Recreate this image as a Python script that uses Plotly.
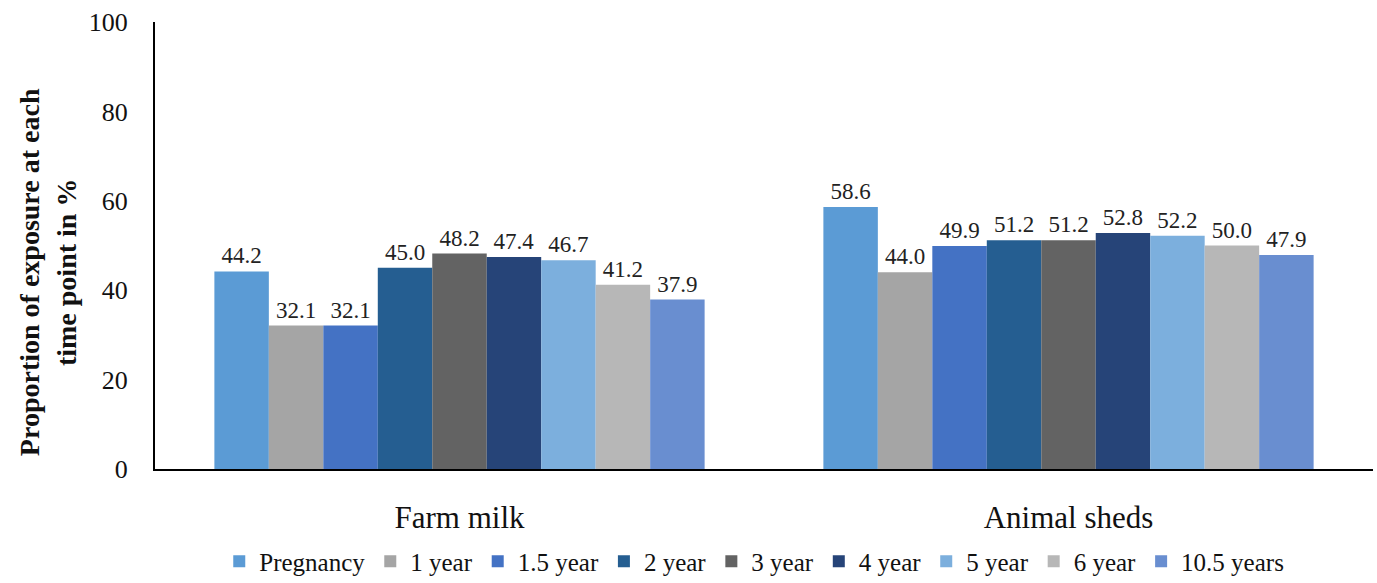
import plotly.graph_objects as go

categories = ["Farm milk", "Animal sheds"]
series_names = ["Pregnancy", "1 year", "1.5 year", "2 year", "3 year", "4 year", "5 year", "6 year", "10.5 years"]
pregnancy = [44.2, 58.6]
year_1 = [32.1, 44.0]
year_1_5 = [32.1, 49.9]
year_2 = [45.0, 51.2]
year_3 = [48.2, 51.2]
year_4 = [47.4, 52.8]
year_5 = [46.7, 52.2]
year_6 = [41.2, 50.0]
year_10_5 = [37.9, 47.9]
series_values = [pregnancy, year_1, year_1_5, year_2, year_3, year_4, year_5, year_6, year_10_5]
colors = ["#5B9BD5", "#A5A5A5", "#4472C4", "#255E91", "#636363", "#264478", "#7CAFDD", "#B7B7B7", "#698ED0"]
y_ticks = [0, 20, 40, 60, 80, 100]

FONT = "Times New Roman"

fig = go.Figure()
for name, vals, col in zip(series_names, series_values, colors):
    fig.add_trace(go.Bar(
        x=categories, y=vals, name=name,
        marker=dict(color=col, line=dict(width=0)),
        texttemplate="%{y:.1f}", textposition="outside",
        textfont=dict(family=FONT, size=23, color="#222222"),
        cliponaxis=False,
    ))

fig.update_layout(
    width=1377, height=583,
    margin=dict(l=155, r=4, t=22, b=114, autoexpand=False),
    paper_bgcolor="white", plot_bgcolor="white",
    barmode="group", bargap=0.195, bargroupgap=0,
    font=dict(family=FONT, color="#111111"),
    showlegend=True,
    legend=dict(orientation="h", x=0.492, xanchor="center", y=-0.207, yanchor="middle",
                font=dict(family=FONT, size=25, color="#111111"),
                itemwidth=30, tracegroupgap=0),
    xaxis=dict(showline=True, linecolor="black", linewidth=2, ticks="", showgrid=False,
               automargin=False,
               tickfont=dict(family=FONT, size=31, color="#111111"), ticklabelstandoff=20),
    yaxis=dict(range=[0, 100], tickvals=y_ticks, showline=True, linecolor="black", linewidth=2,
               ticks="", showgrid=False, zeroline=False, automargin=False,
               tickfont=dict(family=FONT, size=26, color="#111111"), ticklabelstandoff=20),
    annotations=[dict(
        text="<b>Proportion of exposure at each<br>time point in %</b>",
        textangle=-90, xref="paper", yref="paper", x=-0.088, y=0.44,
        xanchor="center", yanchor="middle", showarrow=False,
        font=dict(family=FONT, size=28, color="#111111"))],
)

fig.write_html("out.html")
